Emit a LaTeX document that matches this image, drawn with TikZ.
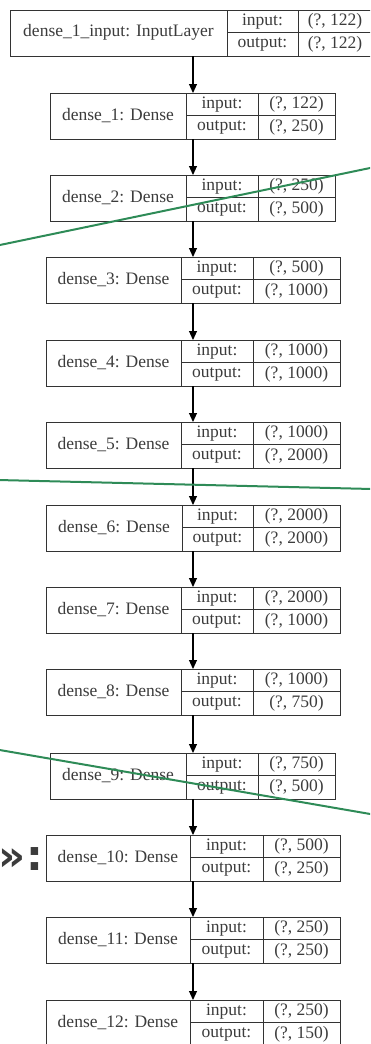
\documentclass[tikz,border=0pt]{standalone}
\usepackage{fontspec}
\setmainfont{Liberation Serif}
\newfontfamily\quotefont{DejaVu Sans}
\usetikzlibrary{arrows.meta}
\definecolor{txtgray}{HTML}{3C3C3C}
\definecolor{linegray}{HTML}{333333}
\definecolor{slidegreen}{HTML}{2E8B57}
\begin{document}
\begin{tikzpicture}[x=1pt,y=-1pt,
  boxline/.style={draw=linegray,line width=0.9pt},
  cell/.style={inner sep=0pt,text=txtgray,font=\fontsize{17.5}{18}\selectfont},
  arr/.style={draw=black,line width=1.1pt,-{Triangle[length=9pt,width=8pt]}},
  cut/.style={draw=slidegreen,line width=2pt}]
\useasboundingbox (0,0) rectangle (370,1044);
\clip (0,0) rectangle (370,1044);
\coordinate (ax) at (193,0);
\foreach \i/\t/\l/\a/\b/\r/\nm/\vin/\vout in {
  0/10/10/227/298/372/{dense\_1\_input: InputLayer}/{(?, 122)}/{(?, 122)},
  1/93/50/186/258/335/{dense\_1: Dense}/{(?, 122)}/{(?, 250)},
  2/175/50/186/258/335/{dense\_2: Dense}/{(?, 250)}/{(?, 500)},
  3/257/46/181/253/340/{dense\_3: Dense}/{(?, 500)}/{(?, 1000)},
  4/340/46/181/253/340/{dense\_4: Dense}/{(?, 1000)}/{(?, 1000)},
  5/422/46/181/253/340/{dense\_5: Dense}/{(?, 1000)}/{(?, 2000)},
  6/505/46/182/253/340/{dense\_6: Dense}/{(?, 2000)}/{(?, 2000)},
  7/587/46/181/253/340/{dense\_7: Dense}/{(?, 2000)}/{(?, 1000)},
  8/669/46/181/253/340/{dense\_8: Dense}/{(?, 1000)}/{(?, 750)},
  9/753/50/186/258/335/{dense\_9: Dense}/{(?, 750)}/{(?, 500)},
  10/835/46/190/263/340/{dense\_10: Dense}/{(?, 500)}/{(?, 250)},
  11/917/46/190/263/340/{dense\_11: Dense}/{(?, 250)}/{(?, 250)},
  12/1000/46/190/263/340/{dense\_12: Dense}/{(?, 250)}/{(?, 150)}}{
  \node[boxline,anchor=north west,inner sep=0pt,minimum width={(\r-\l)*1pt},minimum height=45.5pt] (B\i) at (\l,\t) {};
  \draw[boxline] (\a,\t) -- (\a,{\t+45.5});
  \draw[boxline] (\b,\t) -- (\b,{\t+45.5});
  \draw[boxline] (\a,{\t+22.75}) -- (\r,{\t+22.75});
  \node[cell] (N\i) at ({(\l+\a)/2},{\t+22.75}) {\nm};
  \node[cell] (I\i) at ({(\a+\b)/2},{\t+11.4}) {input:};
  \node[cell] (O\i) at ({(\a+\b)/2},{\t+34.1}) {output:};
  \node[cell] (VI\i) at ({(\b+\r)/2},{\t+11.4}) {\vin};
  \node[cell] (VO\i) at ({(\b+\r)/2},{\t+34.1}) {\vout};
}
\foreach \i [evaluate=\i as \j using {int(\i+1)}] in {0,...,11}{
  \draw[arr] (B\i.south -| ax) -- (B\j.north -| ax);
}
\draw[cut] (-2,245.4) -- (372,167.6);
\draw[cut] (-2,480) -- (372,489);
\draw[cut] (-2,749.7) -- (372,814.3);
\node[inner sep=0pt,anchor=east,text=txtgray,font=\quotefont\bfseries\fontsize{42}{42}\selectfont] (q) at (43,859) {»:};
\end{tikzpicture}
\end{document}
